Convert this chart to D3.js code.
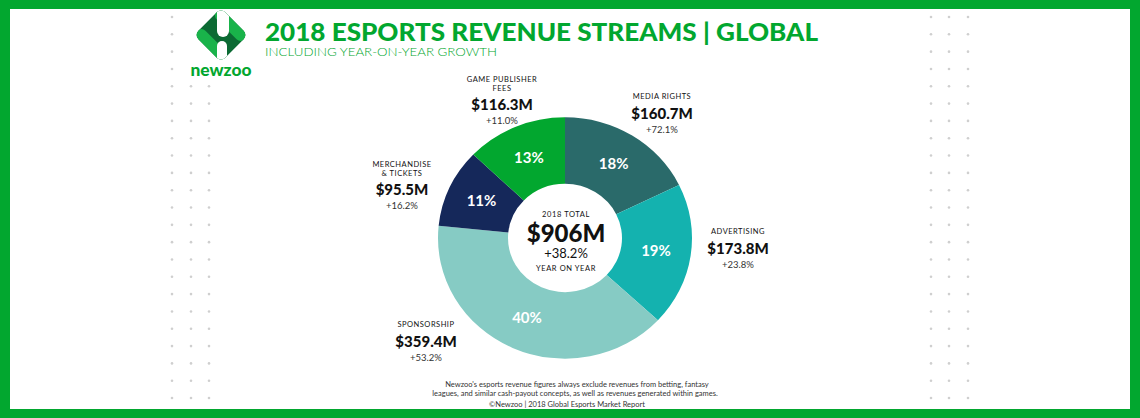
<!DOCTYPE html>
<html>
<head>
<meta charset="utf-8">
<script src="https://cdn.jsdelivr.net/npm/d3@7"></script>
<style>
  body { margin: 0; background: #fff; }
  svg { display: block; }
</style>
</head>
<body>
<div id="chart"></div>
<script>
// data
var categories = ["MEDIA RIGHTS", "ADVERTISING", "SPONSORSHIP", "MERCHANDISE\n& TICKETS", "GAME PUBLISHER\nFEES"];
var revenues = [160.7, 173.8, 359.4, 95.5, 116.3];
var growth = ["+72.1%", "+23.8%", "+53.2%", "+16.2%", "+11.0%"];
var shares = ["18%", "19%", "40%", "11%", "13%"];
var colors = ["#2a6a6a", "#14b2af", "#86cbc4", "#15285a", "#02a72f"];
var totalLabel = "$906M";
var totalGrowth = "+38.2%";

var w = 1140, h = 418;
var green = "#02a72f";
var cx = 565, cy = 238, outerR = 127, innerR = 57, squash = 0.95;
var font = "Lato, 'Open Sans', Roboto, sans-serif";

// where each outside label block sits (top of block)
var labelPos = [
  {x: 662, y: 96},
  {x: 738, y: 231},
  {x: 426, y: 324},
  {x: 402, y: 164},
  {x: 502, y: 79}
];

var svg = d3.select("#chart")
  .append("svg")
  .attr("width", w)
  .attr("height", h);

svg.append("rect").attr("width", w).attr("height", h).attr("fill", "#fff");

// dotted side pattern
var dotRows = d3.range(23).map(function(i) { return 17 + i * 17.32; });
var dotCols = [172, 191, 209, 931, 949, 968];
var dots = svg.append("g").attr("fill", "#cfcfcf");
dotCols.forEach(function(x) {
  dots.selectAll(null)
    .data(dotRows)
    .enter()
    .append("circle")
    .attr("cx", x)
    .attr("cy", function(d) { return d; })
    .attr("r", 1.3);
});

// frame
svg.append("rect").attr("x", 0).attr("y", 0).attr("width", w).attr("height", 9).attr("fill", green);
svg.append("rect").attr("x", 0).attr("y", 409).attr("width", w).attr("height", 9).attr("fill", green);
svg.append("rect").attr("x", 0).attr("y", 0).attr("width", 10).attr("height", h).attr("fill", green);
svg.append("rect").attr("x", 1130).attr("y", 0).attr("width", 10).attr("height", h).attr("fill", green);

// logo
var logo = svg.append("g").attr("transform", "translate(221,35)");
logo.append("rect").attr("x", -34).attr("y", -26).attr("width", 68).attr("height", 54).attr("fill", "#fff");
logo.append("rect").attr("x", -33).attr("y", 28).attr("width", 66).attr("height", 16).attr("fill", "#fff");
var defs = svg.append("defs");
defs.append("clipPath").attr("id", "dia")
  .append("rect")
  .attr("x", -19).attr("y", -19).attr("width", 38).attr("height", 38).attr("rx", 6)
  .attr("transform", "rotate(45)");
logo.append("rect")
  .attr("x", -19).attr("y", -19).attr("width", 38).attr("height", 38).attr("rx", 6)
  .attr("transform", "rotate(45)")
  .attr("fill", "#0b6a33");
var inner = logo.append("g").attr("clip-path", "url(#dia)");
inner.append("rect").attr("x", -20).attr("y", -20).attr("width", 12).attr("height", 40).attr("rx", 6)
  .attr("transform", "rotate(-45)").attr("fill", "#19b34a");
inner.append("rect").attr("x", 8).attr("y", -20).attr("width", 12).attr("height", 40).attr("rx", 6)
  .attr("transform", "rotate(-45)").attr("fill", "#19b34a");
inner.append("rect").attr("x", -4).attr("y", -30).attr("width", 12).attr("height", 32).attr("rx", 6).attr("fill", "#fff");
inner.append("rect").attr("x", -4).attr("y", 6).attr("width", 10).attr("height", 30).attr("rx", 5).attr("fill", "#fff");
logo.append("text")
  .text("newzoo")
  .attr("x", 0).attr("y", 41)
  .attr("text-anchor", "middle")
  .attr("font-family", font)
  .attr("font-weight", 900)
  .attr("font-size", 16)
  .attr("textLength", 61)
  .attr("lengthAdjust", "spacingAndGlyphs")
  .attr("fill", green);

// titles
svg.append("text")
  .text("2018 ESPORTS REVENUE STREAMS | GLOBAL")
  .attr("x", 265).attr("y", 41)
  .attr("font-family", font)
  .attr("font-weight", 900)
  .attr("font-size", 25)
  .attr("textLength", 553)
  .attr("lengthAdjust", "spacingAndGlyphs")
  .attr("fill", green);
svg.append("text")
  .text("INCLUDING YEAR-ON-YEAR GROWTH")
  .attr("x", 265).attr("y", 56)
  .attr("font-family", font)
  .attr("font-weight", 300)
  .attr("font-size", 11.5)
  .attr("textLength", 232)
  .attr("lengthAdjust", "spacingAndGlyphs")
  .attr("fill", green);

// donut
var pie = d3.pie().sort(null).value(function(d) { return d; });
var arc = d3.arc().innerRadius(innerR).outerRadius(outerR);
var arcs = pie(revenues);

var donut = svg.append("g")
  .attr("transform", "translate(" + cx + "," + cy + ") scale(1," + squash + ")");
donut.selectAll("path")
  .data(arcs)
  .enter()
  .append("path")
  .attr("d", arc)
  .attr("fill", function(d, i) { return colors[i]; });

svg.append("g")
  .selectAll("text")
  .data(arcs)
  .enter()
  .append("text")
  .text(function(d, i) { return shares[i]; })
  .attr("x", function(d) { return cx + arc.centroid(d)[0]; })
  .attr("y", function(d) { return cy + arc.centroid(d)[1] * squash + 5; })
  .attr("text-anchor", "middle")
  .attr("font-family", font)
  .attr("font-weight", 700)
  .attr("font-size", 15)
  .attr("fill", "#fff");

// centre
var centre = svg.append("g").attr("text-anchor", "middle").attr("font-family", font).attr("fill", "#111");
centre.append("text").text("2018 TOTAL").attr("x", cx + 1).attr("y", cy - 21)
  .attr("font-size", 7.5).attr("letter-spacing", 0.6);
centre.append("text").text(totalLabel).attr("x", cx + 1).attr("y", cy + 4)
  .attr("font-size", 24).attr("font-weight", 900);
centre.append("text").text(totalGrowth).attr("x", cx + 1).attr("y", cy + 20)
  .attr("font-size", 13).attr("font-weight", 400);
centre.append("text").text("YEAR ON YEAR").attr("x", cx + 1).attr("y", cy + 33)
  .attr("font-size", 7.5).attr("letter-spacing", 0.6);

// outside labels
var labels = svg.append("g").attr("text-anchor", "middle").attr("font-family", font).attr("fill", "#111");
categories.forEach(function(c, i) {
  var p = labelPos[i];
  var lines = c.split("\n");
  var y = p.y + 3;
  lines.forEach(function(l) {
    labels.append("text").text(l).attr("x", p.x).attr("y", y)
      .attr("font-size", 7.5).attr("letter-spacing", 0.5);
    y += 8.5;
  });
  y += 11;
  labels.append("text").text("$" + revenues[i].toFixed(1) + "M").attr("x", p.x).attr("y", y)
    .attr("font-size", 15).attr("font-weight", 900);
  y += 14;
  labels.append("text").text(growth[i]).attr("x", p.x).attr("y", y)
    .attr("font-size", 9.5).attr("font-weight", 400).attr("fill", "#333");
});

// footnote
var note = svg.append("g").attr("text-anchor", "middle").attr("font-family", font).attr("fill", "#333").attr("font-size", 7.5);
note.append("text").text("Newzoo's esports revenue figures always exclude revenues from betting, fantasy")
  .attr("x", 577).attr("y", 387);
note.append("text").text("leagues, and similar cash-payout concepts, as well as revenues generated within games.")
  .attr("x", 575).attr("y", 396);
note.append("text").text("©Newzoo | 2018 Global Esports Market Report")
  .attr("x", 567).attr("y", 407);
</script>
</body>
</html>
